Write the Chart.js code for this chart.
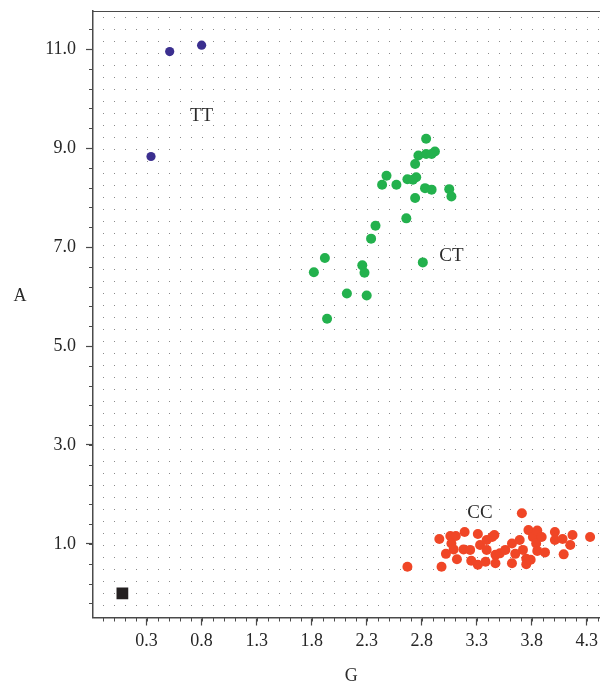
<!DOCTYPE html>
<html>
<head>
<meta charset="utf-8">
<script src="https://cdn.jsdelivr.net/npm/chart.js@4/dist/chart.umd.min.js"></script>
<style>
	html, body { margin: 0; padding: 0; background: #fff; overflow: hidden; }
	#wrap { position: relative; width: 600px; height: 684px; }
	canvas { display: block; }
</style>
</head>
<body>
<div id="wrap"><canvas id="genotype-chart"></canvas></div>
<script>
const xTicks = [0.3, 0.8, 1.3, 1.8, 2.3, 2.8, 3.3, 3.8, 4.3];
const yTicks = [1.0, 3.0, 5.0, 7.0, 9.0, 11.0];

const ttG = [0.51, 0.80, 0.34];
const ttA = [10.95, 11.08, 8.83];

const ctG = [2.84, 2.77, 2.84, 2.92, 2.89, 2.74, 2.48, 2.44, 2.57, 2.67, 2.75, 2.72, 2.83, 2.89,
	3.05, 3.07, 2.74, 2.66, 2.38, 2.34, 1.92, 1.82, 2.26, 2.28, 2.81, 2.12, 2.30, 1.94];
const ctA = [9.19, 8.85, 8.88, 8.93, 8.88, 8.68, 8.44, 8.26, 8.26, 8.37, 8.41, 8.36, 8.19, 8.16,
	8.17, 8.02, 7.99, 7.58, 7.43, 7.17, 6.78, 6.49, 6.63, 6.48, 6.69, 6.06, 6.02, 5.55];

const ccG = [2.67, 2.98, 3.31, 3.71, 4.33, 2.96, 3.06, 3.11, 3.19, 3.07, 3.09, 3.02, 3.12, 3.18,
	3.24, 3.25, 3.31, 3.33, 3.39, 3.39, 3.46, 3.44, 3.38, 3.47, 3.47, 3.51, 3.56, 3.62,
	3.62, 3.65, 3.69, 3.72, 3.75, 3.77, 3.81, 3.85, 3.84, 3.89, 3.85, 3.75, 3.79, 3.92,
	4.01, 4.01, 4.08, 4.09, 4.15, 4.17];
const ccA = [0.54, 0.54, 0.58, 1.62, 1.14, 1.10, 1.16, 1.16, 1.24, 1.01, 0.89, 0.80, 0.69, 0.89,
	0.88, 0.66, 1.20, 0.98, 1.08, 0.88, 1.18, 1.14, 0.64, 0.78, 0.61, 0.81, 0.88, 1.01,
	0.61, 0.80, 1.08, 0.88, 0.70, 1.28, 1.14, 1.27, 1.01, 1.14, 0.86, 0.59, 0.68, 0.83,
	1.24, 1.08, 1.10, 0.79, 0.98, 1.18];

const ntcG = [0.08];
const ntcA = [0.0];

const groupNames = ['TT', 'CT', 'CC'];
const groupLabelG = [0.80, 3.07, 3.33];
const groupLabelA = [9.64, 6.81, 1.63];

const xTitle = 'G';
const yTitle = 'A';

const serif = 'Liberation Serif';
const axisColor = '#4a4a4a';

function toPoints(gs, as) {
	return gs.map((g, i) => ({ x: g, y: as[i] }));
}

// chart area is fixed by hand, so drop the label overhang padding chart.js adds
function noOverhang(scale) {
	scale.paddingLeft = 0;
	scale.paddingRight = 0;
	scale.paddingTop = 0;
	scale.paddingBottom = 0;
}

// dotted paper texture, minor ticks, frame top, group labels and axis titles
const decorPlugin = {
	id: 'decor',
	beforeDatasetsDraw(chart) {
		const { ctx, chartArea, scales } = chart;
		ctx.save();
		ctx.fillStyle = '#8a8a8a';
		for (let v = -0.1; v < 4.45; v += 0.1) {
			const px = scales.x.getPixelForValue(v);
			if (px <= chartArea.left + 2 || px >= chartArea.right) continue;
			for (let py = chartArea.top + 6.3; py < chartArea.bottom - 2; py += 12) {
				ctx.fillRect(Math.round(px), Math.round(py), 1, 1);
			}
		}
		ctx.restore();
	},
	afterDraw(chart) {
		const { ctx, chartArea, scales } = chart;
		ctx.save();
		ctx.strokeStyle = axisColor;
		ctx.lineWidth = 1;

		// top frame line
		ctx.beginPath();
		ctx.moveTo(chartArea.left, chartArea.top + 0.5);
		ctx.lineTo(chartArea.right, chartArea.top + 0.5);
		ctx.stroke();

		// minor ticks
		ctx.beginPath();
		for (let v = -0.1; v < 4.45; v += 0.1) {
			const px = Math.round(scales.x.getPixelForValue(v)) + 0.5;
			ctx.moveTo(px, chartArea.bottom);
			ctx.lineTo(px, chartArea.bottom + 4);
		}
		for (let v = -0.2; v < 11.5; v += 0.4) {
			const py = Math.round(scales.y.getPixelForValue(v)) + 0.5;
			ctx.moveTo(chartArea.left, py);
			ctx.lineTo(chartArea.left - 4, py);
		}
		ctx.stroke();

		// group labels
		ctx.fillStyle = '#2b2b2b';
		ctx.font = `19px "${serif}"`;
		ctx.textAlign = 'center';
		ctx.textBaseline = 'middle';
		groupNames.forEach((name, i) => {
			ctx.fillText(name, scales.x.getPixelForValue(groupLabelG[i]), scales.y.getPixelForValue(groupLabelA[i]));
		});

		// axis titles
		ctx.font = `18px "${serif}"`;
		ctx.fillText(yTitle, 20, scales.y.getPixelForValue(6.0));
		ctx.fillText(xTitle, scales.x.getPixelForValue(2.16), 676);
		ctx.restore();
	}
};

const tickFont = { family: serif, size: 18 };

new Chart(document.querySelector('#genotype-chart'), {
	type: 'scatter',
	data: {
		datasets: [
			{ label: 'TT', data: toPoints(ttG, ttA), backgroundColor: '#3b2f8f', borderWidth: 0, pointRadius: 4.6 },
			{ label: 'CT', data: toPoints(ctG, ctA), backgroundColor: '#23b14d', borderWidth: 0, pointRadius: 5 },
			{ label: 'CC', data: toPoints(ccG, ccA), backgroundColor: '#f04626', borderWidth: 0, pointRadius: 5 },
			{ label: 'NTC', data: toPoints(ntcG, ntcA), backgroundColor: '#231f20', borderWidth: 0, pointStyle: 'rect', pointRadius: 8.3 }
		]
	},
	options: {
		responsive: true,
		maintainAspectRatio: false,
		animation: false,
		layout: { autoPadding: false, padding: { top: 11, left: 0, right: 0, bottom: 0 } },
		scales: {
			x: {
				type: 'linear',
				min: -0.187,
				max: 4.42,
				afterBuildTicks: scale => { scale.ticks = xTicks.map(v => ({ value: v })); },
				afterFit: scale => {
					scale.height = 66.5;
					noOverhang(scale);
				},
				grid: { drawOnChartArea: false, tickLength: 8, tickColor: axisColor, tickWidth: 1.2 },
				border: { color: axisColor, width: 1.5 },
				ticks: {
					autoSkip: false,
					maxRotation: 0,
					padding: 5,
					color: '#262626',
					font: tickFont,
					callback: v => Number(v).toFixed(1)
				}
			},
			y: {
				type: 'linear',
				min: -0.486,
				max: 11.77,
				afterBuildTicks: scale => { scale.ticks = yTicks.map(v => ({ value: v })); },
				afterFit: scale => {
					scale.width = 93;
					noOverhang(scale);
				},
				grid: { drawOnChartArea: false, tickLength: 7, tickColor: axisColor, tickWidth: 1.2 },
				border: { color: axisColor, width: 1.5 },
				ticks: {
					autoSkip: false,
					padding: 10,
					color: '#262626',
					font: tickFont,
					callback: v => Number(v).toFixed(1)
				}
			}
		},
		plugins: {
			legend: { display: false },
			tooltip: { enabled: false }
		}
	},
	plugins: [decorPlugin]
});
</script>
</body>
</html>
